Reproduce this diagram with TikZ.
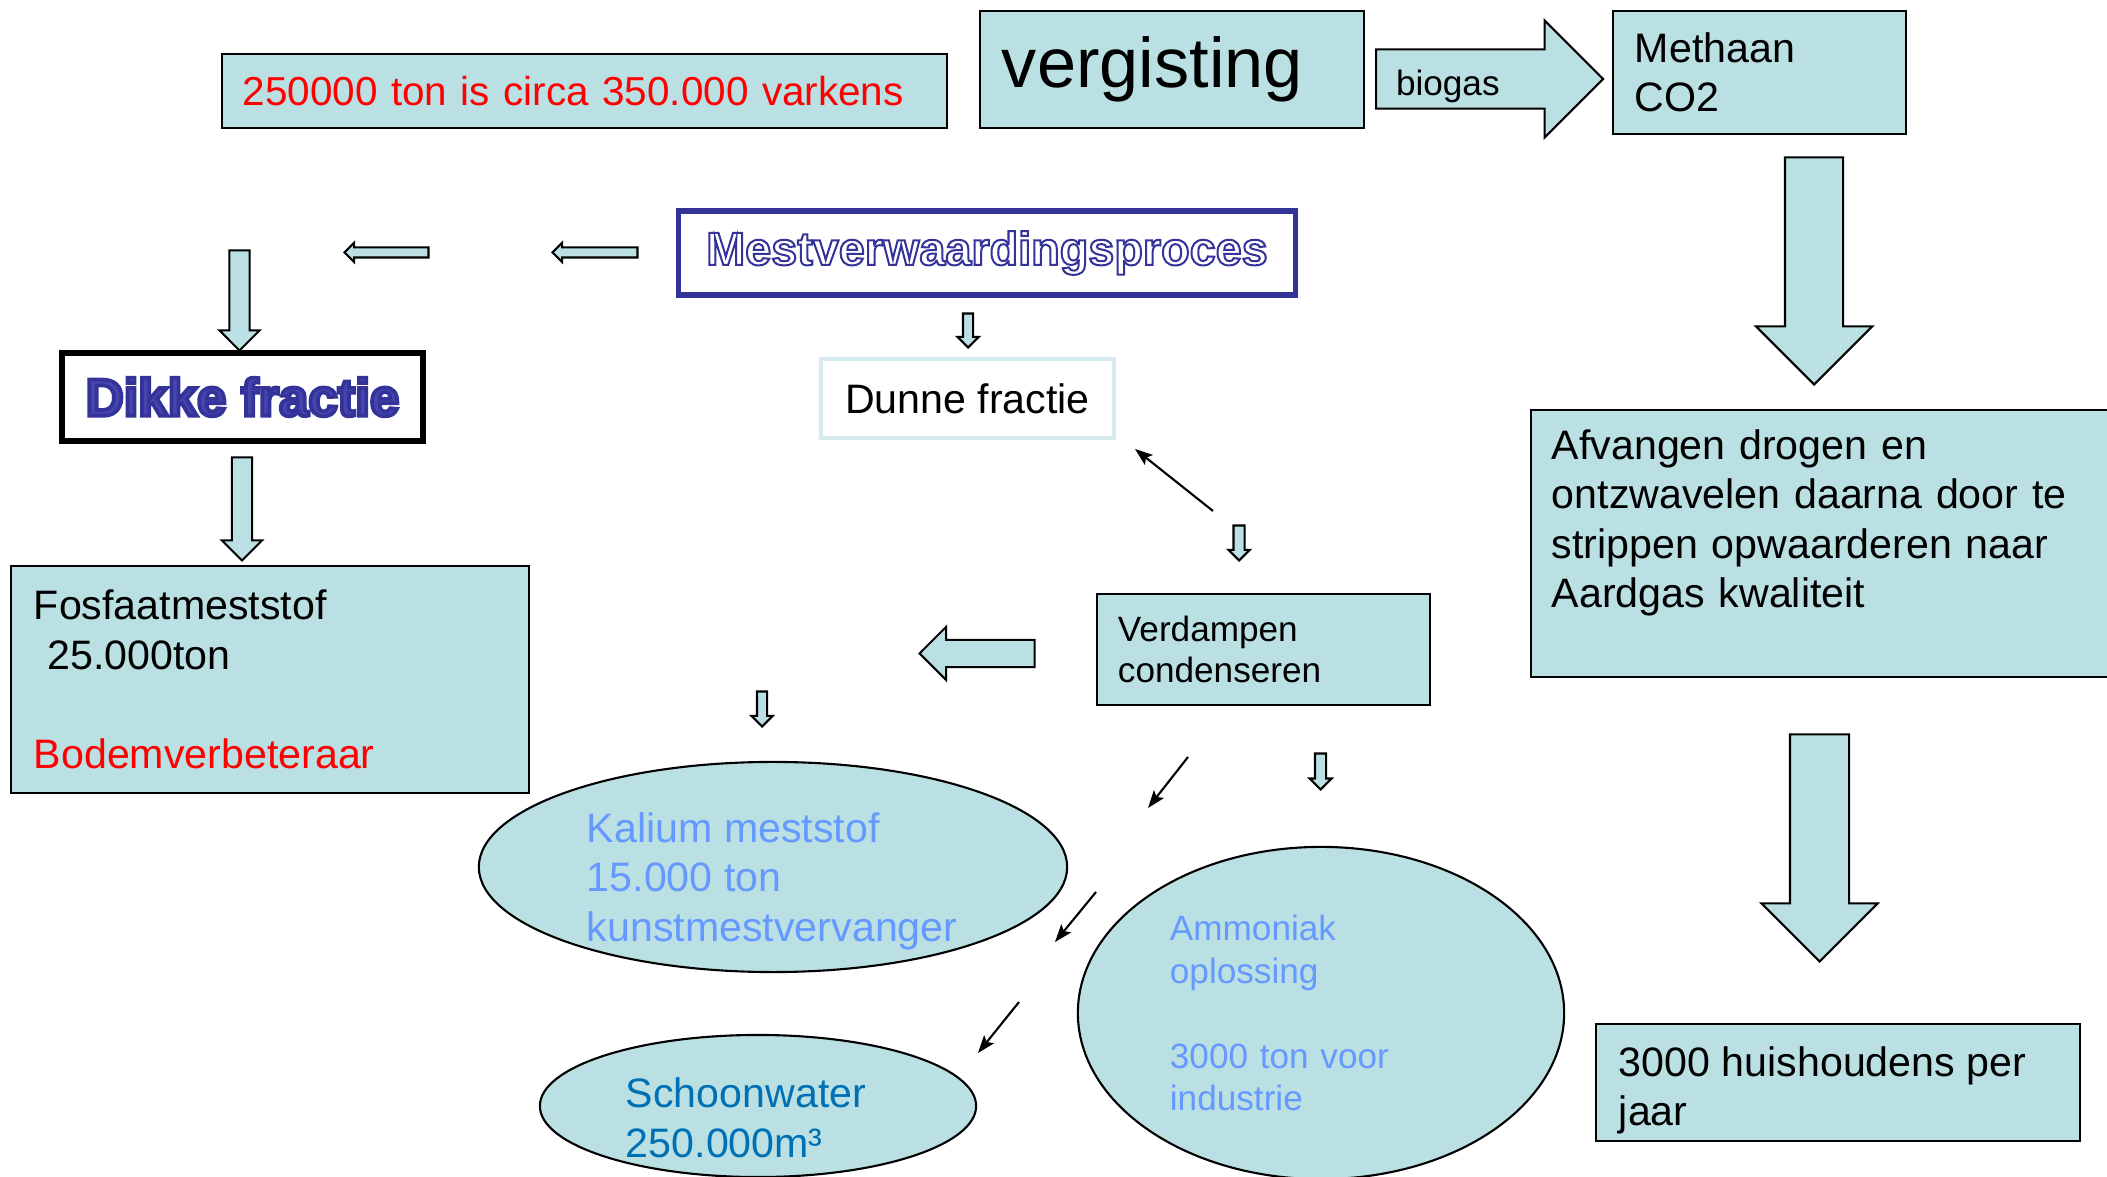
\documentclass[tikz,border=0pt]{standalone}
\usepackage{fontspec}
\setmainfont{Liberation Sans}
\newfontfamily\hollowfont[FakeBold=4.3]{Liberation Sans Bold}
\newfontfamily\heavyfont[FakeBold=7]{Liberation Sans Bold}
\usepackage{xcolor}
\usepackage{tikz}
\usetikzlibrary{arrows.meta, shapes.geometric, shapes.arrows}

\definecolor{boxfill}{RGB}{186,224,227}
\definecolor{mestblue}{RGB}{51,51,153}
\definecolor{kaliblue}{RGB}{102,153,255}
\definecolor{waterblue}{RGB}{0,112,180}
\definecolor{dunneline}{RGB}{214,235,237}

% text lowered inside its node, node size unchanged
\newcommand{\lowertext}[3]{\raisebox{-#1}[\height][\depth]{\parbox{#2}{#3}}}

\begin{document}
\begin{tikzpicture}[
    x=0.01cm, y=-0.01cm,
    every node/.style={font=\fontsize{11.7}{14.1}\selectfont},
    box/.style={draw, fill=boxfill, line width=0.6pt, align=left, inner ysep=0pt},
    small/.style={font=\fontsize{10}{11.9}\selectfont},
    blob/.style={ellipse, draw, fill=boxfill, line width=0.6pt, inner sep=0pt, align=left},
    fatarrow/.style={single arrow, draw, fill=boxfill, line width=0.6pt, inner sep=0pt, single arrow tip angle=90},
    blk/.style n args={3}{fatarrow, minimum height=#1, inner ysep=#2, single arrow head extend=#3},
    down/.style={rotate=-90, anchor=tip},
    left/.style={rotate=180, anchor=tip},
    thinarr/.style={-{Stealth[length=5pt, width=3.6pt, inset=1pt]}, line width=0.6pt},
]
\useasboundingbox (0,0) rectangle (2107,1177);

% --- top row ---
\node[box, text=red, text width=6.83cm, minimum height=0.74cm, inner xsep=0.21cm, font=\fontsize{11.5}{14}\selectfont] (varkens) at (584.5,91) {250000 ton is circa 350.000 varkens};
\node[box, text width=3.40cm, minimum height=1.17cm, inner xsep=0.22cm, font=\fontsize{20}{24}\selectfont] (vergisting) at (1172,69.5) {vergisting};
\node[blk={2.27cm}{0.12cm}{0.29cm}, text height=0.33cm, text depth=0cm, font=\fontsize{10}{12}\selectfont, anchor=tail] (biogas) at (1375,79) {biogas\kern0.54cm};
\node[box, text width=2.49cm, minimum height=1.23cm, inner xsep=0.22cm] (methaan) at (1759.5,72.5) {Methaan\\CO2};

% --- gas side ---
\node[blk={2.27cm}{0.28cm}{0.29cm}, down] (gasdown) at (1814,386) {};
\node[box, text width=5.42cm, minimum height=2.67cm, inner xsep=0.21cm] (afvangen) at (1823,543.5) {Afvangen drogen en\\ontzwavelen daarna door te\\strippen opwaarderen naar\\Aardgas kwaliteit\\~};
\node[blk={2.27cm}{0.285cm}{0.285cm}, down] (huisdown) at (1819.5,963) {};
\node[box, minimum width=4.84cm, minimum height=1.17cm, inner xsep=0.23cm] (huishoudens) at (1838,1082.5) {\lowertext{0.08cm}{4.38cm}{3000 huishoudens per\\jaar}};

% --- scheiding ---
\node[draw=mestblue, line width=1.5pt, minimum width=6.16cm, minimum height=0.84cm, font=\hollowfont\fontsize{13.3}{16}\selectfont] (mest) at (987,253) {\special{pdf:bc [1 1 1] [0.2 0.2 0.6]}Mestverwaardingsproces\special{pdf:ec}};
\node[blk={0.85cm}{0.04cm}{0.045cm}, left] (mestleft1) at (551,252.5) {};
\node[blk={0.84cm}{0.04cm}{0.045cm}, left] (mestleft2) at (343,252.5) {};
\node[blk={1.00cm}{0.09cm}{0.10cm}, down] (dikkein) at (239.5,352) {};
\node[draw, line width=1.6pt, minimum width=3.61cm, minimum height=0.88cm, font=\heavyfont\fontsize{15}{17}\selectfont] (dikke) at (242.5,397) {\special{pdf:bc [0.27 0.27 0.68] [0.2 0.2 0.6]}Dikke fractie\special{pdf:ec}};
\node[blk={1.03cm}{0.09cm}{0.10cm}, down] (dikkeout) at (242,562) {};
\node[box, text width=4.72cm, minimum height=2.27cm, inner xsep=0.23cm] (fosfaat) at (270,679.5) {Fosfaatmeststof\\~25.000ton\\~\\\textcolor{red}{Bodemverbeteraar}};

\node[blk={0.34cm}{0.04cm}{0.055cm}, down] (mestdown) at (968,349) {};
\node[draw=dunneline, line width=1.2pt, minimum width=2.93cm, minimum height=0.79cm] (dunne) at (967.5,398.5) {Dunne fractie};

% --- dunne fractie route ---
\node[blk={0.35cm}{0.045cm}{0.05cm}, down] (verddown) at (1239,562) {};
\node[box, small, text width=2.91cm, minimum height=1.11cm, inner xsep=0.21cm] (verdampen) at (1263.5,649.5) {Verdampen\\condenseren};
\node[blk={1.15cm}{0.125cm}{0.13cm}, left] (verdleft) at (918,653.5) {};
\node[blk={0.35cm}{0.04cm}{0.055cm}, down] (kaldown) at (762,728) {};
\node[blk={0.36cm}{0.045cm}{0.055cm}, down] (amdown) at (1320.5,791) {};

\node[blob, text=kaliblue, minimum width=5.88cm, minimum height=2.10cm] (kalium) at (773,867) {\lowertext{0.14cm}{3.72cm}{Kalium meststof\\15.000 ton\\kunstmestvervanger}};
\node[blob, text=kaliblue, minimum width=4.86cm, minimum height=3.32cm, text width=3.02cm, font=\fontsize{10}{12.1}\selectfont] (ammoniak) at (1321,1013) {Ammoniak\\oplossing\\~\\3000 ton voor\\industrie};
\node[blob, text=waterblue, minimum width=4.36cm, minimum height=1.42cm] (schoon) at (758,1106) {\lowertext{0.12cm}{2.64cm}{Schoonwater\\250.000m³}};

% thin arrows
\coordinate (t0s) at (1213,511);
\coordinate (t0e) at (1135,449);
\coordinate (t1s) at (1188,757);
\coordinate (t1e) at (1148,808);
\coordinate (t2s) at (1096,892);
\coordinate (t2e) at (1055,942);
\coordinate (t3s) at (1019,1002);
\coordinate (t3e) at (978,1053);
\draw[thinarr] (t0s) -- (t0e);
\draw[thinarr] (t1s) -- (t1e);
\draw[thinarr] (t2s) -- (t2e);
\draw[thinarr] (t3s) -- (t3e);

\end{tikzpicture}
\end{document}
